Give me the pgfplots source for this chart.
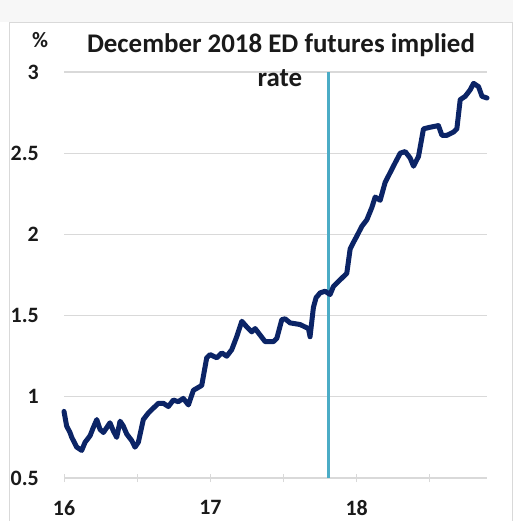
\documentclass[border=0pt]{standalone}
\usepackage{pgfplots}
\pgfplotsset{compat=1.18}
\usepackage{fontspec}
\setmainfont{Carlito}
\definecolor{navy}{HTML}{0B2466}
\definecolor{aqua}{HTML}{4BACC6}
\definecolor{gridc}{HTML}{D9D9D9}
\definecolor{txt}{HTML}{1A1A1A}
\pgfplotstableread{
x y
16.000 0.91
16.018 0.82
16.041 0.78
16.053 0.75
16.087 0.69
16.121 0.67
16.144 0.72
16.178 0.76
16.200 0.81
16.224 0.86
16.246 0.80
16.269 0.78
16.292 0.81
16.314 0.84
16.337 0.79
16.360 0.75
16.383 0.85
16.405 0.82
16.429 0.77
16.463 0.73
16.485 0.69
16.508 0.72
16.542 0.86
16.576 0.90
16.610 0.93
16.645 0.96
16.679 0.96
16.713 0.94
16.747 0.98
16.781 0.97
16.815 0.99
16.850 0.95
16.884 1.04
16.941 1.07
16.975 1.24
16.998 1.26
17.044 1.24
17.078 1.27
17.112 1.25
17.146 1.29
17.180 1.37
17.215 1.465
17.249 1.43
17.283 1.40
17.306 1.42
17.340 1.38
17.374 1.34
17.431 1.34
17.454 1.36
17.488 1.475
17.511 1.48
17.545 1.455
17.613 1.445
17.670 1.42
17.681 1.37
17.704 1.55
17.722 1.61
17.750 1.64
17.784 1.65
17.818 1.63
17.841 1.68
17.886 1.72
17.932 1.76
17.955 1.91
17.977 1.95
18.001 1.99
18.035 2.05
18.069 2.09
18.103 2.165
18.126 2.23
18.160 2.21
18.194 2.32
18.228 2.38
18.262 2.44
18.297 2.50
18.331 2.51
18.365 2.47
18.388 2.42
18.422 2.48
18.456 2.65
18.502 2.66
18.558 2.67
18.582 2.61
18.616 2.61
18.661 2.63
18.684 2.65
18.707 2.83
18.741 2.85
18.775 2.89
18.798 2.93
18.832 2.91
18.856 2.85
18.890 2.84
}\edrate
\begin{document}
\begin{tikzpicture}
\useasboundingbox (0,0) rectangle (513bp,521bp);
\fill[white] (0,0) rectangle (513bp,521bp);
\fill[black!3] (0,499bp) rectangle (513bp,521bp);
\draw[gridc, line width=1bp] (9.5bp,-5bp) rectangle (512.5bp,498.5bp);
\begin{axis}[
  at={(64bp,43bp)}, anchor=south west,
  scale only axis, width=423bp, height=406bp,
  xmin=16, xmax=18.89, ymin=0.5, ymax=3,
  clip=false,
  axis line style={draw=none},
  xtick={16,17,18}, minor xtick={16.5,17.5,18.5},
  ytick={0.5,1,1.5,2,2.5,3},
  xtick pos=bottom, ytick pos=left,
  tick align=center,
  major tick length=8bp, minor tick length=8bp,
  xtick style={gridc, line width=1bp},
  ytick style={draw=none},
  ymajorgrids, grid style={gridc, line width=1.2bp},
  /pgf/number format/assume math mode=true,
  ticklabel style={font=\bfseries\fontsize{22}{22}\selectfont, text=txt, inner sep=0pt},
  yticklabel style={anchor=east, xshift=-21bp},
  xticklabel style={anchor=north, yshift=-18bp},
]
\addplot[aqua, line width=3.2bp] coordinates {(17.807,0.5) (17.807,3)};
\addplot[navy, line width=5bp, line join=round, line cap=round] table[x=x,y=y] {\edrate};
\end{axis}
\node[anchor=base, text=txt, inner sep=0pt, font=\bfseries\fontsize{27}{27}\selectfont] at (281bp,468bp) {December 2018 ED futures implied};
\node[anchor=base, text=txt, inner sep=0pt, font=\bfseries\fontsize{27}{27}\selectfont] at (280bp,434bp) {rate};
\node[anchor=base, text=txt, inner sep=0pt, font=\bfseries\fontsize{22}{22}\selectfont] at (40bp,473bp) {\%};
\end{tikzpicture}
\end{document}
